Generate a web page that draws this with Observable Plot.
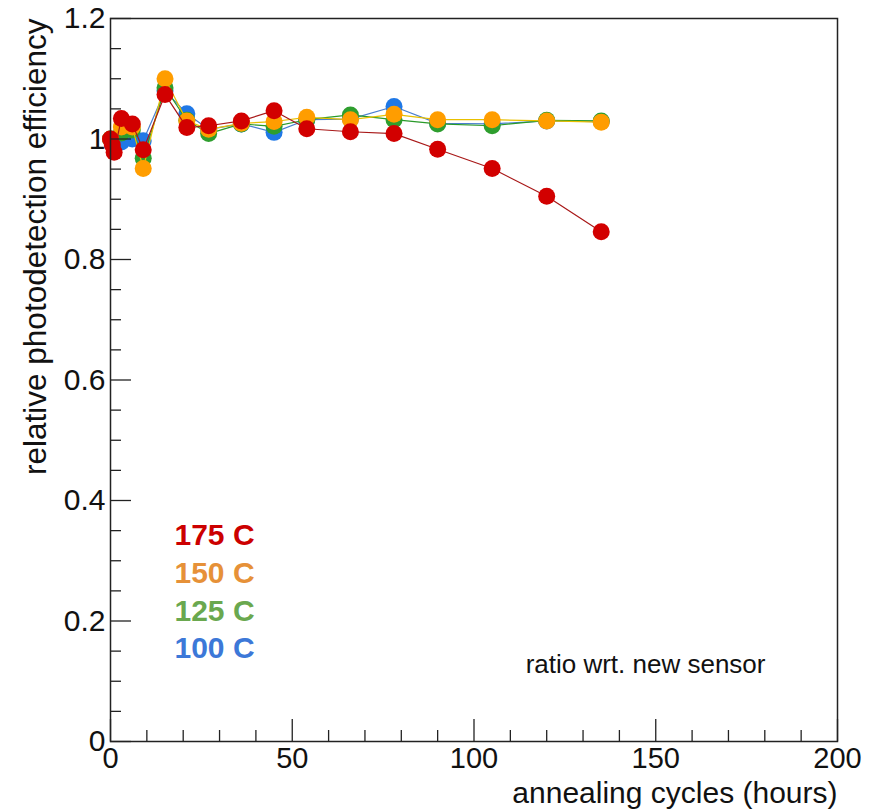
<!DOCTYPE html>
<html>
<head>
<meta charset="utf-8">
<script src="https://cdn.jsdelivr.net/npm/d3@7"></script>
<script src="https://cdn.jsdelivr.net/npm/@observablehq/plot@0.6"></script>
<style>
  html, body { margin: 0; padding: 0; background: #fff; }
  #chart svg { display: block; }
</style>
</head>
<body>
<div id="chart"></div>
<script>
// Annealing time (hours)
const hours175 = [0, 0.5, 1, 3, 6, 9, 15, 21, 27, 36, 45, 54, 66, 78, 90, 105, 120, 135];
const eff175   = [1.0, 0.99, 0.978, 1.034, 1.025, 0.982, 1.074, 1.019, 1.022, 1.030, 1.047, 1.017, 1.012, 1.009, 0.983, 0.951, 0.905, 0.846];

const hours = [0, 3, 6, 9, 15, 21, 27, 36, 45, 54, 66, 78, 90, 105, 120, 135];
const eff150 = [1.0, 1.02, 1.02, 0.951, 1.100, 1.030, 1.016, 1.026, 1.029, 1.036, 1.032, 1.041, 1.032, 1.032, 1.030, 1.028];
const eff125 = [1.0, 1.01, 1.015, 0.968, 1.085, 1.031, 1.009, 1.025, 1.021, 1.032, 1.040, 1.032, 1.025, 1.022, 1.031, 1.030];
const eff100 = [1.0, 0.995, 1.0, 0.997, 1.080, 1.042, 1.016, 1.025, 1.011, 1.032, 1.033, 1.054, 1.026, 1.025, 1.030, 1.029];

const seriesNames  = ["100 C", "125 C", "150 C", "175 C"];
const dotColors    = ["#1f78e6", "#2e9e2e", "#ff9d00", "#d20000"];
const lineColors   = ["#4a7fd0", "#2a9a2a", "#e8c000", "#a81818"];
const legendLabels = ["175 C", "150 C", "125 C", "100 C"];
const legendColors = ["#cc0000", "#e69138", "#6aa84f", "#3c78d8"];

const xMajor = [0, 50, 100, 150, 200];
const xMinor = [10, 20, 30, 40, 60, 70, 80, 90, 110, 120, 130, 140, 160, 170, 180, 190];
const yMajor = [0, 0.2, 0.4, 0.6, 0.8, 1, 1.2];
const yMinor = [0.05, 0.1, 0.15, 0.25, 0.3, 0.35, 0.45, 0.5, 0.55, 0.65, 0.7, 0.75, 0.85, 0.9, 0.95, 1.05, 1.1, 1.15];

const seriesData = [
  hours.map((h, i) => ({h, e: eff100[i]})),
  hours.map((h, i) => ({h, e: eff125[i]})),
  hours.map((h, i) => ({h, e: eff150[i]})),
  hours175.map((h, i) => ({h, e: eff175[i]}))
];

const W = 875, H = 809;
const mL = 110, mR = 38, mT = 18, mB = 68;
const plotW = W - mL - mR, plotH = H - mT - mB;

const marks = [];
seriesData.forEach((d, k) => {
  marks.push(Plot.line(d, {x: "h", y: "e", stroke: lineColors[k], strokeWidth: 1.2}));
  marks.push(Plot.dot(d, {x: "h", y: "e", r: 8.5, fill: dotColors[k], stroke: "none"}));
});

// ticks pointing inward
marks.push(Plot.tickX(xMajor, {x: d => d, stroke: "#222", strokeWidth: 1.3, insetTop: plotH - 22}));
marks.push(Plot.tickX(xMinor, {x: d => d, stroke: "#222", strokeWidth: 1.3, insetTop: plotH - 11}));
marks.push(Plot.tickY(yMajor, {y: d => d, stroke: "#222", strokeWidth: 1.3, insetRight: plotW - 21}));
marks.push(Plot.tickY(yMinor, {y: d => d, stroke: "#222", strokeWidth: 1.3, insetRight: plotW - 11}));
marks.push(Plot.frame({stroke: "#222", strokeWidth: 1.5}));

// tick labels
marks.push(Plot.axisX({ticks: xMajor, label: null, tickSize: 0, tickPadding: 6, tickFormat: d => String(d), fontSize: 29, fill: "#111"}));
marks.push(Plot.axisY({ticks: yMajor, label: null, tickSize: 0, tickPadding: 5, tickFormat: d => String(d), fontSize: 30, fill: "#111"}));

// axis titles
marks.push(Plot.text(["relative photodetection efficiency"], {
  frameAnchor: "top-left", rotate: -90, textAnchor: "end", lineAnchor: "middle",
  dx: -75, dy: 0, fontSize: 31.5, fill: "#111"
}));
marks.push(Plot.text(["annealing cycles (hours)"], {
  frameAnchor: "bottom-right", textAnchor: "end", lineAnchor: "middle",
  dx: 0, dy: 52, fontSize: 30, fill: "#111"
}));

// legend
legendLabels.forEach((lab, i) => {
  marks.push(Plot.text([lab], {
    frameAnchor: "bottom-left", textAnchor: "start", lineAnchor: "middle",
    dx: 64, dy: -(206 - i * 37.7), fontSize: 30, fontWeight: "bold", fill: legendColors[i]
  }));
});
marks.push(Plot.text(["ratio wrt. new sensor"], {
  frameAnchor: "bottom-right", textAnchor: "end", lineAnchor: "middle",
  dx: -72, dy: -77, fontSize: 26, fill: "#111"
}));

const chart = Plot.plot({
  width: W, height: H,
  marginLeft: mL, marginRight: mR, marginTop: mT, marginBottom: mB,
  x: {domain: [0, 200], axis: null},
  y: {domain: [0, 1.2], axis: null},
  style: {fontFamily: "'Liberation Sans', Arial, Helvetica, sans-serif", background: "#fff", overflow: "visible"},
  marks
});
document.getElementById("chart").appendChild(chart);
</script>
</body>
</html>
